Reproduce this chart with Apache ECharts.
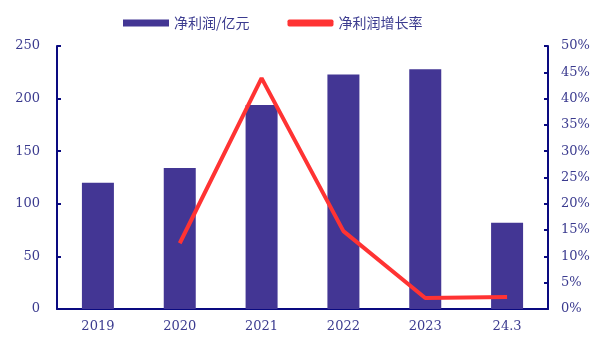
<!DOCTYPE html>
<html><head><meta charset="utf-8">
<script src="https://cdn.jsdelivr.net/npm/echarts@6/dist/echarts.min.js"></script>
<style>html,body{margin:0;padding:0;background:#fff}#c{width:597px;height:338px}</style>
</head><body><div id="c"></div>
<script>
const categories = ['2019','2020','2021','2022','2023','24.3'];
const profit = [120, 134, 194, 223, 228, 82];
const growth = [null, 12.5, 43.9, 14.8, 2.1, 2.3];
const leftTicks = [0, 50, 100, 150, 200, 250];
const rightTicks = [0, 5, 10, 15, 20, 25, 30, 35, 40, 45, 50];

const axisColor = '#0a0a80';
const labelColor = '#3b3b8f';
const numFont = 'DejaVu Serif';
const chart = echarts.init(document.getElementById('c'));
chart.setOption({
  animation: false,
  legend: {
    top: 11, left: 118, itemGap: 38, itemWidth: 46, itemHeight: 7,
    textStyle: { color: labelColor, fontSize: 14, fontFamily: 'Noto Sans CJK SC' },
    data: [{name: '净利润/亿元', icon: 'rect'}, {name: '净利润增长率', icon: 'roundRect'}]
  },
  grid: { left: 57, right: 49, top: 46, bottom: 29 },
  xAxis: {
    type: 'category', data: categories,
    axisLine: { lineStyle: { color: axisColor, width: 2 } },
    axisTick: { inside: true, length: 4, lineStyle: { color: axisColor, width: 2 } },
    axisLabel: { color: labelColor, fontSize: 13, fontFamily: numFont, margin: 11 }
  },
  yAxis: [{
    type: 'value', min: leftTicks[0], max: leftTicks[leftTicks.length-1], interval: 50,
    axisLine: { show: true, lineStyle: { color: axisColor, width: 2 } },
    axisTick: { show: true, inside: true, length: 4, lineStyle: { color: axisColor, width: 2 } },
    axisLabel: { color: labelColor, fontSize: 13, fontFamily: numFont, margin: 17 },
    splitLine: { show: false }
  }, {
    type: 'value', min: rightTicks[0], max: rightTicks[rightTicks.length-1], interval: 5,
    position: 'right',
    axisLine: { show: true, lineStyle: { color: axisColor, width: 2 } },
    axisTick: { show: true, inside: true, length: 4, lineStyle: { color: axisColor, width: 2 } },
    axisLabel: { color: labelColor, fontSize: 13, fontFamily: numFont, margin: 13, formatter: '{value}%' },
    splitLine: { show: false }
  }],
  series: [{
    name: '净利润/亿元', type: 'bar', data: profit, barWidth: 32,
    itemStyle: { color: '#433694' }
  }, {
    name: '净利润增长率', type: 'line', yAxisIndex: 1, data: growth,
    symbol: 'none', connectNulls: false,
    lineStyle: { color: '#ff3333', width: 4 }, itemStyle: { color: '#ff3333' }
  }]
});
</script></body></html>
